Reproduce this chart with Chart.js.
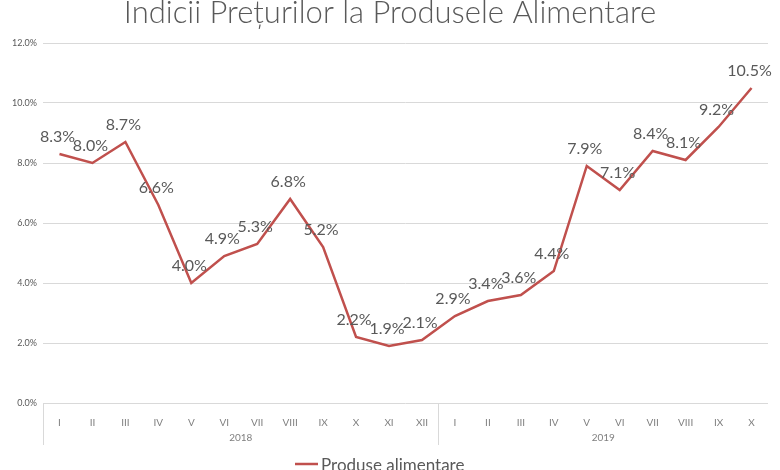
<!DOCTYPE html>
<html><head><meta charset="utf-8">
<script src="https://cdn.jsdelivr.net/npm/chart.js@4.4.0/dist/chart.umd.min.js"></script>
<style>html,body{margin:0;padding:0;background:#fff;overflow:hidden}#wrap{width:780px;height:470px}</style>
</head><body><div id="wrap"><canvas id="c" width="780" height="470"></canvas></div>
<script>
const titleText = "Indicii Prețurilor la Produsele Alimentare";
const seriesName = "Produse alimentare";
const months = ["I","II","III","IV","V","VI","VII","VIII","IX","X","XI","XII","I","II","III","IV","V","VI","VII","VIII","IX","X"];
const years = ["2018","2019"];
const yearCounts = [12,10];
const values = [8.3,8.0,8.7,6.6,4.0,4.9,5.3,6.8,5.2,2.2,1.9,2.1,2.9,3.4,3.6,4.4,7.9,7.1,8.4,8.1,9.2,10.5];

const gray = "#595959";
const lineColor = "#c0504d";

const extras = {
  id: "extras",
  afterDraw(chart) {
    const ctx = chart.ctx;
    const x = chart.scales.x, y = chart.scales.y;
    const area = chart.chartArea;
    ctx.save();
    // data labels
    ctx.font = "16px Lato";
    ctx.fillStyle = gray;
    ctx.textAlign = "center";
    ctx.textBaseline = "alphabetic";
    const meta = chart.getDatasetMeta(0);
    meta.data.forEach((pt, i) => {
      ctx.fillText(values[i].toFixed(1) + "%", pt.x - 2, pt.y - 12);
    });
    // year group labels and separators
    ctx.strokeStyle = "#d9d9d9";
    ctx.lineWidth = 1;
    let start = 0;
    const half = (x.getPixelForValue(1) - x.getPixelForValue(0)) / 2;
    const bounds = [];
    yearCounts.forEach((n, k) => {
      const left = x.getPixelForValue(start) - half;
      const right = x.getPixelForValue(start + n - 1) + half;
      bounds.push(left);
      ctx.font = "10px Lato";
      ctx.fillStyle = "#7f7f7f";
      ctx.textBaseline = "middle";
      ctx.fillText(years[k], (left + right) / 2, area.bottom + 35);
      start += n;
    });
    bounds.forEach(b => {
      const bx = Math.round(b) + 0.5;
      ctx.beginPath();
      ctx.moveTo(bx, area.bottom);
      ctx.lineTo(bx, area.bottom + 42);
      ctx.stroke();
    });
    // title
    ctx.font = "300 31px Lato";
    ctx.fillStyle = gray;
    ctx.textBaseline = "middle";
    ctx.fillText(titleText, 390, 13);
    // legend
    ctx.strokeStyle = lineColor;
    ctx.lineWidth = 2.5;
    ctx.beginPath();
    ctx.moveTo(295, 464);
    ctx.lineTo(318, 464);
    ctx.stroke();
    ctx.font = "17px Lato";
    ctx.textAlign = "left";
    ctx.fillStyle = gray;
    ctx.fillText(seriesName, 321, 466);
    ctx.restore();
  }
};

new Chart(document.getElementById("c"), {
  type: "line",
  data: {
    labels: months,
    datasets: [{
      label: seriesName,
      data: values,
      borderColor: lineColor,
      borderWidth: 2.5,
      pointRadius: 0,
      tension: 0,
      fill: false
    }]
  },
  options: {
    responsive: false,
    animation: false,
    devicePixelRatio: 1,
    layout: { padding: { top: 43, right: 12, left: 0, bottom: 0 } },
    plugins: { legend: { display: false }, title: { display: false }, tooltip: { enabled: false } },
    scales: {
      x: {
        offset: true,
        grid: { display: false, offset: true },
        border: { display: false },
        ticks: { color: "#7f7f7f", font: { size: 10, family: "Lato" }, maxRotation: 0, autoSkip: false, padding: 6 },
        afterFit(s) { s.height = 67; }
      },
      y: {
        min: 0, max: 12,
        grid: { color: "#d9d9d9", drawTicks: false },
        border: { display: false },
        ticks: { stepSize: 2, color: gray, font: { size: 9, family: "Lato" }, padding: 6,
                 callback: v => v.toFixed(1) + "%" },
        afterFit(s) { s.width = 43; }
      }
    }
  },
  plugins: [extras]
});
</script></body></html>
